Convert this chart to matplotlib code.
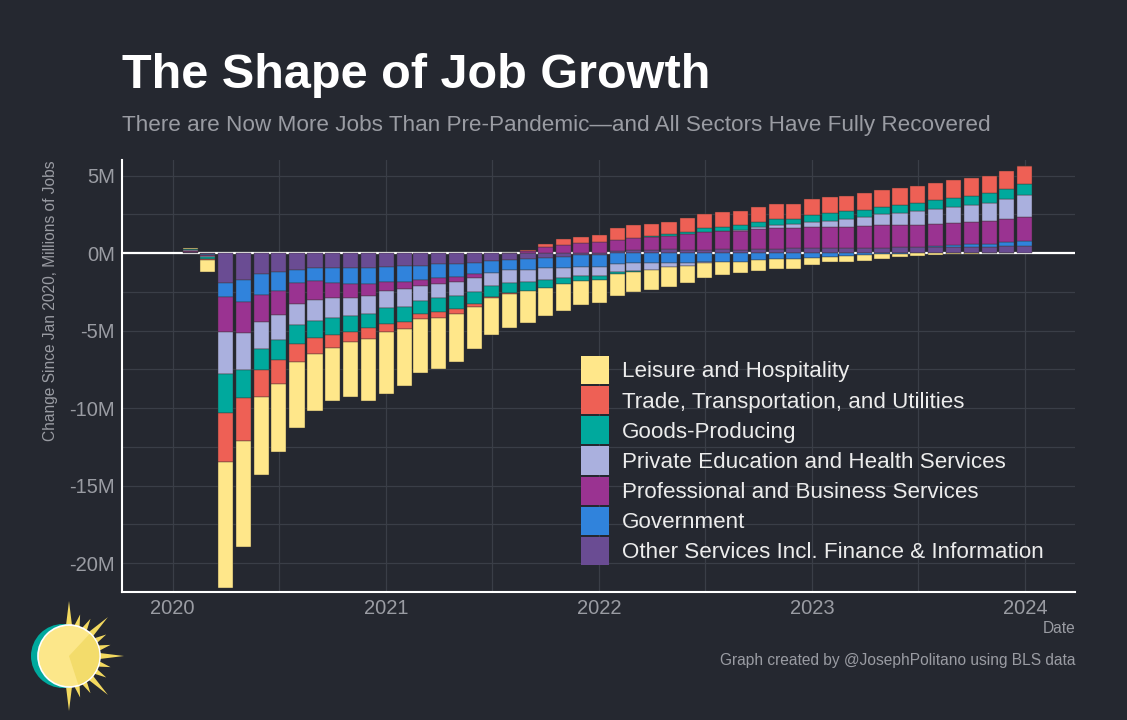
import matplotlib
matplotlib.use("Agg")
import matplotlib.pyplot as plt
import matplotlib.dates as mdates
from matplotlib.patches import Patch, Circle, Wedge, Polygon
import numpy as np
import pandas as pd

plt.rcParams['font.family'] = ['Liberation Sans', 'DejaVu Sans']

# months Feb 2020 .. Jan 2024, change since Jan 2020 in millions of jobs
months = pd.date_range("2020-02-01", periods=48, freq="MS")

other = [0.04, -0.06,
         -1.96, -1.74, -1.38, -1.25, -1.12, -0.99, -0.95, -0.95, -0.95,
         -0.90, -0.86, -0.82, -0.73, -0.71, -0.65, -0.52, -0.45, -0.39, -0.30, -0.24, -0.13,
         -0.10, 0.15, 0.22, 0.20, 0.24, 0.20, 0.20, 0.24, 0.20, 0.24, 0.24, 0.30,
         0.30, 0.32, 0.33, 0.33, 0.35, 0.37, 0.41, 0.41, 0.41, 0.41, 0.41, 0.45,
         0.45]
government = [0.05, -0.05,
              -0.86, -1.40, -1.33, -1.23, -0.80, -0.84, -1.01, -1.08, -1.08,
              -0.99, -1.03, -0.95, -0.90, -0.86, -0.73, -0.75, -0.65, -0.71, -0.69, -0.71, -0.75,
              -0.80, -0.69, -0.67, -0.67, -0.62, -0.62, -0.56, -0.56, -0.56, -0.45, -0.41, -0.39,
              -0.31, -0.24, -0.18, -0.13, -0.09, -0.04, 0.00, 0.06, 0.10, 0.15, 0.20, 0.26,
              0.32]
professional = [0.05, -0.08,
                -2.26, -2.04, -1.72, -1.53, -1.35, -1.20, -0.97, -0.86, -0.73,
                -0.56, -0.45, -0.37, -0.39, -0.32, -0.22, 0.00, 0.03, 0.10, 0.37, 0.52, 0.63,
                0.69, 0.70, 0.78, 0.86, 0.88, 1.03, 1.18, 1.18, 1.23, 1.31, 1.35, 1.29,
                1.35, 1.33, 1.36, 1.42, 1.46, 1.46, 1.40, 1.40, 1.44, 1.42, 1.44, 1.46,
                1.53]
education_health = [0.07, -0.10,
                    -2.75, -2.37, -1.78, -1.61, -1.40, -1.33, -1.29, -1.18, -1.16,
                    -1.12, -1.12, -0.97, -0.90, -0.90, -0.90, -0.86, -0.82, -0.75, -0.75, -0.65, -0.60,
                    -0.60, -0.54, -0.47, -0.40, -0.30, -0.25, -0.08, 0.02, 0.06, 0.15, 0.22, 0.27,
                    0.37, 0.43, 0.52, 0.59, 0.68, 0.75, 0.90, 0.97, 1.03, 1.12, 1.20, 1.31,
                    1.42]
goods = [0.03, -0.08,
         -2.47, -1.83, -1.35, -1.29, -1.23, -1.14, -1.08, -1.05, -0.95,
         -1.01, -1.01, -0.84, -0.90, -0.84, -0.82, -0.69, -0.69, -0.60, -0.49, -0.43, -0.32,
         -0.25, -0.15, -0.06, 0.02, 0.10, 0.15, 0.21, 0.21, 0.32, 0.32, 0.37, 0.35,
         0.43, 0.47, 0.47, 0.45, 0.47, 0.53, 0.54, 0.58, 0.60, 0.60, 0.65, 0.65,
         0.71]
trade = [0.02, -0.10,
         -3.20, -2.75, -1.76, -1.51, -1.16, -0.99, -0.82, -0.60, -0.65,
         -0.54, -0.45, -0.32, -0.37, -0.32, -0.19, -0.11, -0.06, 0.10, 0.22, 0.36, 0.41,
         0.49, 0.78, 0.81, 0.80, 0.80, 0.86, 0.92, 0.99, 0.92, 0.97, 0.97, 0.95,
         1.01, 1.08, 1.01, 1.10, 1.12, 1.08, 1.08, 1.08, 1.12, 1.12, 1.08, 1.14,
         1.20]
leisure = [0.05, -0.75,
           -8.09, -6.86, -5.03, -4.39, -4.22, -3.72, -3.42, -3.57, -4.00,
           -4.00, -3.66, -3.50, -3.27, -3.05, -2.71, -2.37, -2.19, -2.09, -1.83, -1.72, -1.55,
           -1.50, -1.40, -1.33, -1.30, -1.25, -1.08, -0.95, -0.86, -0.71, -0.69, -0.65, -0.62,
           -0.46, -0.35, -0.38, -0.36, -0.32, -0.24, -0.20, -0.12, -0.08, -0.05, -0.03, -0.02,
           0.01]

# stacking order from zero outward
series = [
    ("Other Services Incl. Finance & Information", other, "#6A4C93"),
    ("Government", government, "#3083DC"),
    ("Professional and Business Services", professional, "#9A3391"),
    ("Private Education and Health Services", education_health, "#AAB0DE"),
    ("Goods-Producing", goods, "#00A99D"),
    ("Trade, Transportation, and Utilities", trade, "#EE6055"),
    ("Leisure and Hospitality", leisure, "#FFE78A"),
]

bg = "#252830"
grid_c = "#3a3e47"
txt_c = "#9a9ca3"

fig = plt.figure(figsize=(11.27, 7.2), dpi=100, facecolor=bg)
ax = fig.add_axes([122 / 1127, 1 - 592 / 720, (1075 - 122) / 1127, (592 - 160) / 720])
ax.set_facecolor(bg)

x = mdates.date2num(months)
width = 26
pos_base = np.zeros(len(x))
neg_base = np.zeros(len(x))
for name, vals, col in series:
    v = np.array(vals)
    pos = np.where(v > 0, v, 0)
    neg = np.where(v < 0, v, 0)
    m = pos > 0
    ax.bar(x[m], pos[m], width=width, bottom=pos_base[m], color=col,
           edgecolor="#3b3530", linewidth=0.3, zorder=3)
    m = neg < 0
    ax.bar(x[m], neg[m], width=width, bottom=neg_base[m], color=col,
           edgecolor="#3b3530", linewidth=0.3, zorder=3)
    pos_base += pos
    neg_base += neg

ax.axhline(0, color="white", lw=1.6, zorder=2)

ax.set_ylim(-21.87, 6.0)
ax.set_xlim(mdates.date2num(pd.Timestamp("2019-10-06")), mdates.date2num(pd.Timestamp("2024-03-27")))
ax.set_yticks([-20, -15, -10, -5, 0, 5])
ax.set_yticklabels(["-20M", "-15M", "-10M", "-5M", "0M", "5M"])
ax.set_yticks(np.arange(-20, 6, 2.5), minor=True)
years = [pd.Timestamp(f"{y}-01-01") for y in range(2020, 2025)]
ax.set_xticks(mdates.date2num(years))
ax.set_xticklabels([str(y) for y in range(2020, 2025)])
ax.set_xticks(mdates.date2num([pd.Timestamp(f"{y}-07-01") for y in range(2020, 2024)]), minor=True)
ax.grid(True, which="both", color=grid_c, lw=0.9, zorder=0)
ax.tick_params(which="both", length=0, colors=txt_c, labelsize=14.5)
ax.tick_params(axis="y", pad=5)
ax.tick_params(axis="x", pad=5)
for s in ["top", "right"]:
    ax.spines[s].set_visible(False)
for s in ["left", "bottom"]:
    ax.spines[s].set_color("white")
    ax.spines[s].set_linewidth(1.5)

ax.set_ylabel("Change Since Jan 2020, Millions of Jobs", color=txt_c, fontsize=11.2)
ax.yaxis.set_label_coords(-0.067, (592 - 301) / 432)
fig.text(1075 / 1127, 1 - 633 / 720, "Date", color=txt_c, fontsize=11.2, ha="right", va="baseline")
fig.text(1075 / 1127, 1 - 665 / 720, "Graph created by @JosephPolitano using BLS data",
         color=txt_c, fontsize=11.2, ha="right", va="baseline")

fig.text(122 / 1127, 1 - 88 / 720, "The Shape of Job Growth", color="white",
         fontsize=35, fontweight="bold", ha="left", va="baseline")
fig.text(122 / 1127, 1 - 131 / 720,
         "There are Now More Jobs Than Pre-Pandemic\u2014and All Sectors Have Fully Recovered",
         color=txt_c, fontsize=16.2, ha="left", va="baseline")

handles = [Patch(facecolor=c, edgecolor="none", label=n) for n, _, c in reversed(series)]
leg = ax.legend(handles=handles, loc="upper left", bbox_to_anchor=(581 / 1127, 1 - 356 / 720),
                bbox_transform=fig.transFigure, frameon=False, fontsize=16.1,
                handlelength=1.26, handleheight=1.56, labelspacing=0.09,
                handletextpad=0.58, borderpad=0, borderaxespad=0)
for t in leg.get_texts():
    t.set_color("#ececec")

# sun logo
lax = fig.add_axes([0, 0, 1, 1], zorder=-1)
lax.set_xlim(0, 1127)
lax.set_ylim(720, 0)
lax.axis("off")
cx, cy = 69, 656
angles = np.arange(-90, 91, 15)
for a in angles:
    r_tip = 55 if a % 45 == 0 else 43
    t = np.radians(a)
    tip = (cx + r_tip * np.cos(t), cy - r_tip * np.sin(t))
    b1 = (cx + 28 * np.cos(t + 0.12), cy - 28 * np.sin(t + 0.12))
    b2 = (cx + 28 * np.cos(t - 0.12), cy - 28 * np.sin(t - 0.12))
    lax.add_patch(Polygon([tip, b1, b2], closed=True, color="#F3D95F", lw=0))
lax.add_patch(Circle((cx - 6, cy), 32, color="#00A99D", lw=0))
lax.add_patch(Circle((cx, cy), 31, facecolor="#FCE78A", edgecolor="white", lw=1.2))
lax.add_patch(Wedge((cx, cy), 30.3, -47, 72, facecolor="#F3DC6B", lw=0))

fig.savefig("out.png", dpi=100, facecolor=bg)
